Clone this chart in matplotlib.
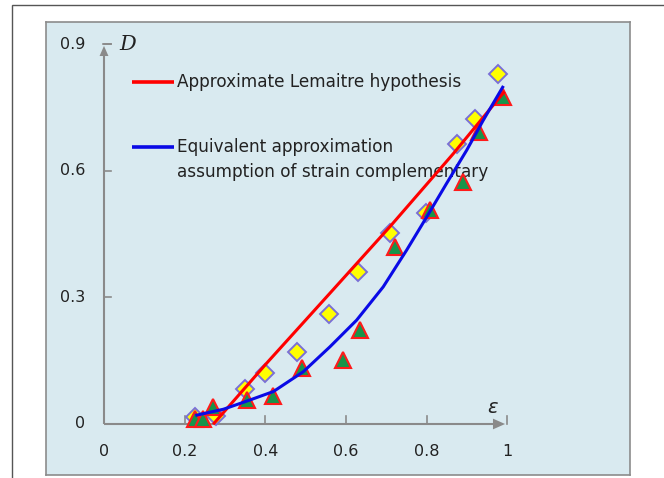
import matplotlib
matplotlib.use("Agg")
import matplotlib.pyplot as plt
from matplotlib.patches import Rectangle, Polygon

# Measured damage D versus strain epsilon
eps_diamond = [0.226, 0.277, 0.349, 0.399, 0.479, 0.558, 0.630, 0.709, 0.798, 0.876, 0.919, 0.977]
D_diamond = [0.017, 0.018, 0.082, 0.122, 0.170, 0.261, 0.361, 0.452, 0.501, 0.663, 0.722, 0.829]

eps_triangle = [0.225, 0.246, 0.269, 0.354, 0.420, 0.490, 0.593, 0.634, 0.721, 0.808, 0.889, 0.930, 0.990]
D_triangle = [0.011, 0.011, 0.040, 0.058, 0.067, 0.132, 0.152, 0.223, 0.419, 0.507, 0.574, 0.693, 0.776]

# Model curves
eps_lemaitre = [0.273, 0.403, 0.560, 0.709, 0.866, 0.990]
D_lemaitre = [0.002, 0.144, 0.310, 0.468, 0.641, 0.785]

eps_equiv = [0.230, 0.296, 0.362, 0.420, 0.494, 0.560, 0.626, 0.692, 0.750, 0.800, 0.849, 0.899, 0.940, 0.988]
D_equiv = [0.021, 0.035, 0.057, 0.077, 0.124, 0.183, 0.246, 0.325, 0.412, 0.491, 0.570, 0.649, 0.720, 0.798]

x_ticks = [0, 0.2, 0.4, 0.6, 0.8, 1]
x_tick_labels = ["0", "0.2", "0.4", "0.6", "0.8", "1"]
y_ticks = [0, 0.3, 0.6, 0.9]
y_tick_labels = ["0", "0.3", "0.6", "0.9"]

label_lemaitre = "Approximate Lemaitre hypothesis"
label_equiv = "Equivalent approximation\nassumption of strain complementary"

W, H = 664, 478
fig = plt.figure(figsize=(W / 100, H / 100), dpi=100)
fig.patch.set_facecolor("white")

# thin outer frame of the figure
fig.add_artist(Rectangle((12 / W, -0.05), 1.2, 1 - 5 / H + 0.05, transform=fig.transFigure,
                         fill=False, edgecolor="#555555", linewidth=1.0))

# plot panel geometry in pixels
left, right, top, bottom = 46, 630, 22, 475
ax = fig.add_axes([left / W, 1 - bottom / H, (right - left) / W, (bottom - top) / H])
ax.set_facecolor("#d9eaf0")
for s in ax.spines.values():
    s.set_edgecolor("#8c8c8c")
    s.set_linewidth(1.2)

x0_px, xs = 104, 403.5
y0_px, ys = 424, 422
ax.set_xlim(-(x0_px - left) / xs, (right - x0_px) / xs)
ax.set_ylim(-(bottom - y0_px) / ys, (y0_px - top) / ys)
ax.set_xticks([])
ax.set_yticks([])

axis_col = "#8a8a8a"
# arrowed axes
ax.plot([0, 0.97], [0, 0], color=axis_col, lw=1.5, zorder=2, solid_capstyle="butt")
ax.plot([0, 0], [0, 0.88], color=axis_col, lw=1.5, zorder=2, solid_capstyle="butt")
ax.add_patch(Polygon([[0.964, 0.0127], [0.994, 0.0], [0.964, -0.0127]], closed=True,
                     color=axis_col, zorder=2, lw=0))
ax.add_patch(Polygon([[-0.011, 0.872], [0.0, 0.896], [0.011, 0.872]], closed=True,
                     color=axis_col, zorder=2, lw=0))

# tick marks
for xt in x_ticks[1:]:
    ax.plot([xt, xt], [0, 0.019], color=axis_col, lw=1.2, zorder=2)
for yt in y_ticks[1:]:
    ax.plot([0, 0.018], [yt, yt], color=axis_col, lw=1.2, zorder=2)
ax.plot([-0.003, 0.018], [0.9, 0.9], color=axis_col, lw=1.2, zorder=2)

tick_font = dict(fontsize=11.5, color="#222222", family="DejaVu Sans")
for xt, lab in zip(x_ticks, x_tick_labels):
    ax.text(xt, -0.066, lab, ha="center", va="center", **tick_font)
for yt, lab in zip(y_ticks, y_tick_labels):
    ax.text(-0.047, yt, lab, ha="right", va="center", **tick_font)

# axis symbols
ax.text(0.037, 0.9, "D", ha="left", va="center", fontsize=15, style="italic",
        family="DejaVu Serif", color="#222222")
ax.text(0.963, 0.038, r"$\varepsilon$", ha="center", va="center", fontsize=14, color="#222222")

# data markers
ax.plot(eps_diamond, D_diamond, linestyle="none", marker="D", markersize=8.8,
        markerfacecolor="#ffff00", markeredgecolor="#7a6fd6", markeredgewidth=1.4, zorder=3)
ax.plot(eps_triangle, D_triangle, linestyle="none", marker="^", markersize=12,
        markerfacecolor="#17944a", markeredgecolor="#ff1a1a", markeredgewidth=1.5, zorder=4)

# model curves
ax.plot(eps_lemaitre, D_lemaitre, color="#ff0000", lw=2.2, zorder=5)
ax.plot(eps_equiv, D_equiv, color="#0a0ae6", lw=2.2, zorder=5)

# legend drawn by hand
def px2data(px, py):
    return (px - x0_px) / xs, (y0_px - py) / ys

lx0, _ = px2data(132, 0)
lx1, _ = px2data(174, 0)
tx, _ = px2data(177, 0)
_, ly1 = px2data(0, 82)
_, ly2 = px2data(0, 147)
_, ly3 = px2data(0, 172)
ax.plot([lx0, lx1], [ly1, ly1], color="#ff0000", lw=2.6, zorder=5, solid_capstyle="butt")
ax.plot([lx0, lx1], [ly2, ly2], color="#0a0ae6", lw=2.6, zorder=5, solid_capstyle="butt")
leg_font = dict(fontsize=12.2, color="#222222", family="DejaVu Sans", ha="left", va="center")
ax.text(tx, ly1, label_lemaitre, **leg_font)
line1, line2 = label_equiv.split("\n")
ax.text(tx, ly2, line1, **leg_font)
ax.text(tx, ly3, line2, **leg_font)

fig.savefig("out.png", dpi=100, facecolor="white")
